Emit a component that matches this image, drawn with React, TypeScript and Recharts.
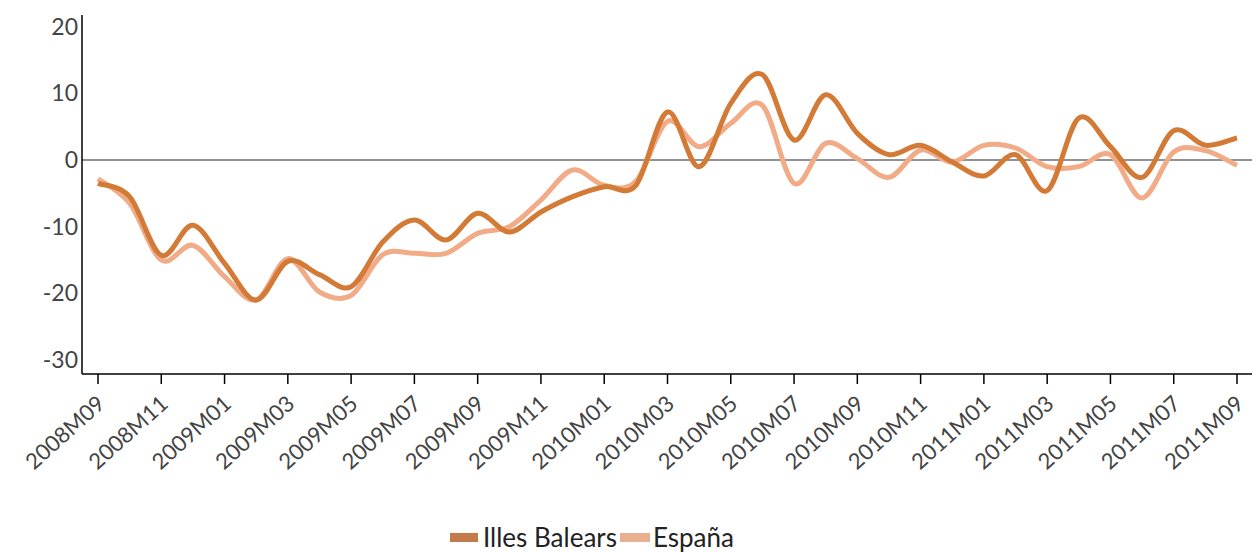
import { LineChart, Line, XAxis, YAxis, ReferenceLine, Legend } from 'recharts';

const months = [
  '2008M09', '2008M10', '2008M11', '2008M12',
  '2009M01', '2009M02', '2009M03', '2009M04', '2009M05', '2009M06',
  '2009M07', '2009M08', '2009M09', '2009M10', '2009M11', '2009M12',
  '2010M01', '2010M02', '2010M03', '2010M04', '2010M05', '2010M06',
  '2010M07', '2010M08', '2010M09', '2010M10', '2010M11', '2010M12',
  '2011M01', '2011M02', '2011M03', '2011M04', '2011M05', '2011M06',
  '2011M07', '2011M08', '2011M09',
];

const balears = [
  -3.5, -5.5, -14.3, -9.8,
  -15.5, -21, -15.2, -17.2, -19, -12.3,
  -9, -12, -8, -10.8, -7.8, -5.5,
  -4, -3.8, 7.2, -1, 8.5, 12.8,
  3, 9.8, 4, 0.8, 2.2, -0.3,
  -2.4, 0.8, -4.6, 6.3, 2, -2.6,
  4.4, 2.2, 3.3,
];

const espana = [
  -2.8, -6.5, -15, -12.8,
  -17.5, -21, -14.8, -19.8, -20.3, -14.2,
  -14, -14, -11, -10, -6, -1.5,
  -3.8, -3.2, 5.8, 2, 5.5, 8.2,
  -3.5, 2.5, 0.2, -2.6, 1.5, -0.3,
  2.2, 1.8, -1, -1, 0.8, -5.7,
  1.2, 1.4, -0.8,
];

const yTicks = [-30, -20, -10, 0, 10, 20];

const DARK = '#D27A36';
const LIGHT = '#F1AC87';
const FONT = 'Lato, "Open Sans", sans-serif';

const data = months.map((m, i) => ({ month: m, balears: balears[i], espana: espana[i] }));

// smooth line the way spreadsheet charts do (catmull-rom through the points)
function smoothCurve(context: any) {
  let pts: number[][] = [];
  return {
    areaStart() {},
    areaEnd() {},
    lineStart() { pts = []; },
    point(x: number, y: number) { pts.push([+x, +y]); },
    lineEnd() {
      if (!pts.length) return;
      context.moveTo(pts[0][0], pts[0][1]);
      for (let i = 0; i < pts.length - 1; i++) {
        const p0 = pts[i - 1] || pts[i];
        const p1 = pts[i];
        const p2 = pts[i + 1];
        const p3 = pts[i + 2] || p2;
        context.bezierCurveTo(
          p1[0] + (p2[0] - p0[0]) / 6, p1[1] + (p2[1] - p0[1]) / 6,
          p2[0] - (p3[0] - p1[0]) / 6, p2[1] - (p3[1] - p1[1]) / 6,
          p2[0], p2[1],
        );
      }
    },
  };
}

const MonthTick = (props: any) => {
  const { x, y, payload } = props;
  return (
    <g transform={`translate(${x + 3},${y + 14})`}>
      <text x={0} y={0} dy="0.35em" textAnchor="end" transform="rotate(-42)"
        fill="#444" fontSize={22} fontFamily={FONT}>
        {payload.value}
      </text>
    </g>
  );
};

const LegendBox = () => (
  <div style={{ display: 'flex', alignItems: 'center', height: 30, fontFamily: FONT, fontSize: 26, color: '#222' }}>
    <span style={{ width: 28, height: 9, background: '#C47A48', marginRight: 5 }} />
    <span style={{ marginRight: 3 }}>Illes Balears</span>
    <span style={{ width: 30, height: 9, background: '#E9B08F', marginRight: 3 }} />
    <span>España</span>
  </div>
);

export default function App() {
  return (
    <div style={{ position: 'absolute', left: 0, top: 0, width: 1258, height: 552, background: '#fff' }}>
      <LineChart width={1258} height={552} data={data} margin={{ top: 15, right: 6, bottom: 0, left: 0 }}>
        <XAxis
          dataKey="month"
          interval={1}
          height={148}
          padding={{ left: 16, right: 15 }}
          tickSize={10}
          tick={<MonthTick />}
          axisLine={{ stroke: '#000', strokeWidth: 1.5 }}
          tickLine={{ stroke: '#000', strokeWidth: 1.5 }}
        />
        <YAxis
          width={82}
          domain={[-32.1, 21.75]}
          allowDataOverflow
          ticks={yTicks}
          tickSize={0}
          tickMargin={4}
          tickLine={false}
          axisLine={{ stroke: '#000', strokeWidth: 1.5 }}
          tick={{ fill: '#444', fontSize: 23, fontFamily: FONT }}
        />
        <ReferenceLine y={0} stroke="#6e6e6e" strokeWidth={1.3} />
        <Line dataKey="espana" name="España" type={smoothCurve as any} stroke={LIGHT} strokeWidth={5}
          dot={false} activeDot={false} isAnimationActive={false} />
        <Line dataKey="balears" name="Illes Balears" type={smoothCurve as any} stroke={DARK} strokeWidth={5}
          dot={false} activeDot={false} isAnimationActive={false} />
        <Legend verticalAlign="bottom" content={<LegendBox />}
          wrapperStyle={{ left: 450, width: 320, bottom: 0 }} />
      </LineChart>
    </div>
  );
}
